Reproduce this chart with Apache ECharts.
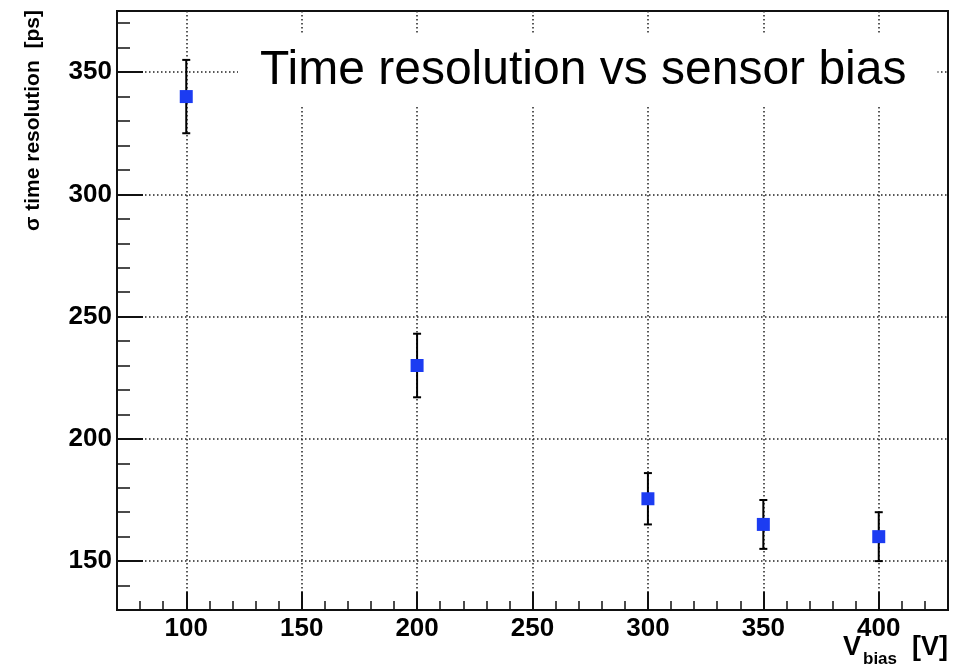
<!DOCTYPE html>
<html>
<head>
<meta charset="utf-8">
<script src="https://cdn.jsdelivr.net/npm/echarts@6/dist/echarts.min.js"></script>
<style>
html,body{margin:0;padding:0;background:#fff;}
#chart{width:959px;height:672px;}
</style>
</head>
<body>
<div id="chart"></div>
<script>
// ---- data ----
const vBias = [100, 200, 300, 350, 400];          // V_bias [V]
const sigma = [340, 230, 175.5, 165, 160];        // time resolution [ps]
const errLow = [15, 13, 10.5, 10, 10];
const errHigh = [15, 13, 10.5, 10, 10];
const titleText = 'Time resolution vs sensor bias';
const yTitle = 'σ time resolution  [ps]';
const xRange = [70, 430];
const yRange = [130, 375];

const FONT = '"Liberation Sans", Arial, Helvetica, sans-serif';
const chart = echarts.init(document.getElementById('chart'), null, {renderer: 'canvas'});

const pts = vBias.map((v, i) => [v, sigma[i]]);
const errs = vBias.map((v, i) => [v, sigma[i], errLow[i], errHigh[i]]);

const labelFmt = v => (v % 50 === 0 ? String(v) : '');

const dotted = {color: '#222', width: 1.5, type: [1.5, 2.5]};

const option = {
  animation: false,
  backgroundColor: '#fff',
  title: {
    text: titleText,
    left: 238, top: 35,
    padding: [12, 31, 12, 22],
    backgroundColor: '#fff',
    textStyle: {fontSize: 48, fontWeight: 'normal', fontFamily: FONT, color: '#000', lineHeight: 48}
  },
  grid: {
    left: 117, top: 11, right: 11, bottom: 62,
    show: true, borderColor: '#111', borderWidth: 2, backgroundColor: 'transparent',
    containLabel: false
  },
  xAxis: [
    {
      type: 'value', min: xRange[0], max: xRange[1],
      splitNumber: 7, minInterval: 50, maxInterval: 50,
      position: 'bottom',
      axisLine: {show: true, onZero: false, lineStyle: {color: '#111', width: 2}},
      axisTick: {show: true, inside: true, length: 18, lineStyle: {color: '#111', width: 2}},
      axisLabel: {show: true, formatter: labelFmt, showMinLabel: false, showMaxLabel: false,
        margin: 6, fontSize: 26, fontWeight: 'bold', fontFamily: FONT, color: '#000'},
      splitLine: {show: true, showMinLine: false, showMaxLine: false, lineStyle: dotted}
    },
    {
      type: 'value', min: xRange[0], max: xRange[1], interval: 10,
      position: 'bottom', offset: 0,
      axisLine: {show: false, onZero: false},
      axisTick: {show: true, inside: true, length: 9, lineStyle: {color: '#111', width: 1.5}},
      axisLabel: {show: false},
      splitLine: {show: false}
    }
  ],
  yAxis: [
    {
      type: 'value', min: yRange[0], max: yRange[1],
      splitNumber: 5, minInterval: 50, maxInterval: 50,
      position: 'left',
      axisLine: {show: true, onZero: false, lineStyle: {color: '#111', width: 2}},
      axisTick: {show: true, inside: true, length: 26, lineStyle: {color: '#111', width: 2}},
      axisLabel: {show: true, formatter: labelFmt, showMinLabel: false, showMaxLabel: false,
        margin: 5, fontSize: 26, fontWeight: 'bold', fontFamily: FONT, color: '#000'},
      splitLine: {show: true, showMinLine: false, showMaxLine: false, lineStyle: dotted}
    },
    {
      type: 'value', min: yRange[0], max: yRange[1], interval: 10,
      position: 'left', offset: 0,
      axisLine: {show: false, onZero: false},
      axisTick: {show: true, inside: true, length: 13, lineStyle: {color: '#111', width: 1.5}},
      axisLabel: {show: false},
      splitLine: {show: false}
    }
  ],
  graphic: [
    {
      type: 'text', x: 33, y: 231, rotation: Math.PI / 2, z: 10,
      style: {text: yTitle, fontSize: 21, fontWeight: 'bold', fontFamily: FONT, fill: '#000',
        align: 'left', verticalAlign: 'middle'}
    },
    {
      type: 'text', x: 843, y: 648, z: 10,
      style: {text: 'V', fontSize: 27, fontWeight: 'bold', fontFamily: FONT, fill: '#000',
        align: 'left', verticalAlign: 'middle'}
    },
    {
      type: 'text', x: 863, y: 659, z: 10,
      style: {text: 'bias', fontSize: 17, fontWeight: 'bold', fontFamily: FONT, fill: '#000',
        align: 'left', verticalAlign: 'middle'}
    },
    {
      type: 'text', x: 948, y: 648, z: 10,
      style: {text: '[V]', fontSize: 27, fontWeight: 'bold', fontFamily: FONT, fill: '#000',
        align: 'right', verticalAlign: 'middle'}
    }
  ],
  series: [
    {
      type: 'custom',
      xAxisIndex: 0, yAxisIndex: 0,
      z: 3,
      data: errs,
      encode: {x: 0, y: 1},
      renderItem: function (params, api) {
        const x = api.value(0), y = api.value(1), lo = api.value(2), hi = api.value(3);
        const top = api.coord([x, y + hi]);
        const bot = api.coord([x, y - lo]);
        const cw = 4;
        const st = {stroke: '#000', lineWidth: 2};
        return {
          type: 'group',
          children: [
            {type: 'line', shape: {x1: top[0], y1: top[1], x2: bot[0], y2: bot[1]}, style: st},
            {type: 'line', shape: {x1: top[0] - cw, y1: top[1], x2: top[0] + cw, y2: top[1]}, style: st},
            {type: 'line', shape: {x1: bot[0] - cw, y1: bot[1], x2: bot[0] + cw, y2: bot[1]}, style: st}
          ]
        };
      }
    },
    {
      type: 'scatter',
      xAxisIndex: 0, yAxisIndex: 0,
      z: 4,
      symbol: 'rect',
      symbolSize: 13,
      itemStyle: {color: '#1c3cf2', opacity: 1},
      data: pts
    }
  ]
};
chart.setOption(option);
</script>
</body>
</html>
